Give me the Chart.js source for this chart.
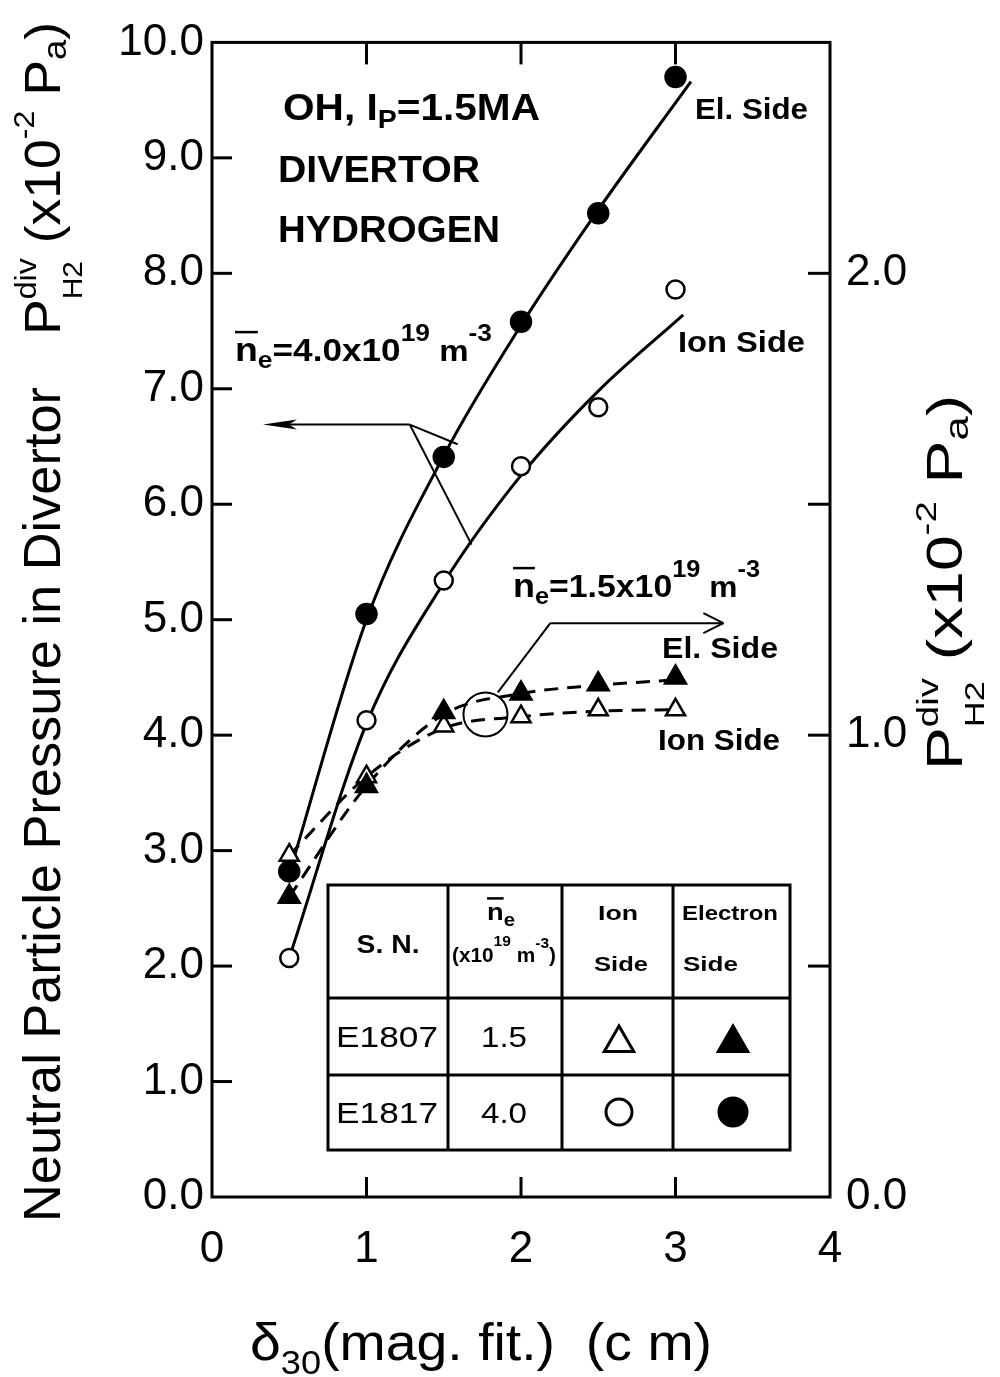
<!DOCTYPE html>
<html>
<head>
<meta charset="utf-8">
<script src="https://cdn.jsdelivr.net/npm/chart.js@4.4.1/dist/chart.umd.min.js"></script>
<style>
  html, body { margin: 0; padding: 0; background: #fff; }
  #wrap { width: 1000px; height: 1377px; position: relative; }
</style>
</head>
<body>
<div id="wrap"><canvas id="grafico"></canvas></div>
<script>
// delta_30 (cm) where the shots were taken
const delta = [0.5, 1.0, 1.5, 2.0, 2.5, 3.0];

// E1817, ne = 4.0x10^19 m^-3 -> left axis (x10^-2 Pa)
const e1817Elec = [2.82, 5.05, 6.41, 7.58, 8.52, 9.70];
const e1817Ion = [2.07, 4.13, 5.34, 6.33, 6.84, 7.86];

// E1807, ne = 1.5x10^19 m^-3 -> right axis (x10^-2 Pa)
const e1807Elec = [0.65, 0.89, 1.05, 1.09, 1.11, 1.125];
const e1807Ion = [0.74, 0.91, 1.02, 1.04, 1.055, 1.055];

// smooth curves drawn through the data
const curvaElecX = [0.5, 1.0, 1.5, 2.0, 2.5, 3.1];
const curvaElecY = [2.8, 5.0, 6.42, 7.55, 8.55, 9.66];
const curvaIonX = [0.5, 1.0, 1.5, 2.0, 2.5, 3.05];
const curvaIonY = [2.07, 4.1, 5.32, 6.25, 6.98, 7.64];
const curvaElec2X = [0.5, 1.0, 1.5, 2.0, 2.5, 3.0];
const curvaElec2Y = [0.65, 0.89, 1.045, 1.09, 1.108, 1.12];
const curvaIon2X = [0.5, 1.0, 1.5, 2.0, 2.5, 3.0];
const curvaIon2Y = [0.74, 0.91, 1.015, 1.04, 1.052, 1.055];

// axis ticks
const xTicks = [0, 1, 2, 3, 4];
const yTicks = [0, 1, 2, 3, 4, 5, 6, 7, 8, 9, 10];
const y2Ticks = [0, 0.5, 1.0, 1.5, 2.0, 2.5];
const y2Labels = [0, 1, 2];

// legend table
const tablaSN = ['E1807', 'E1817'];
const tablaNe = ['1.5', '4.0'];

const FAM = '"Liberation Sans", Arial, sans-serif';
const pts = (xs, ys) => xs.map((x, i) => ({ x, y: ys[i] }));

function curva(xs, ys, eje, dash) {
  return {
    data: pts(xs, ys), yAxisID: eje, showLine: true, pointRadius: 0,
    borderColor: '#000', borderWidth: 3, borderDash: dash || [],
    cubicInterpolationMode: 'monotone', fill: false, order: 2
  };
}
function marca(ys, eje, estilo, relleno, r) {
  return {
    data: pts(delta, ys), yAxisID: eje, pointStyle: estilo, pointRadius: r,
    pointBackgroundColor: relleno, pointBorderColor: '#000', pointBorderWidth: 2.5,
    showLine: false, order: 1
  };
}

// text made of pieces (sub/superscripts), squeezed to a given length
function texto(ctx, partes, x, y, ancho, opts) {
  opts = opts || {};
  const peso = opts.peso || 'normal';
  ctx.save();
  ctx.translate(x, y);
  if (opts.ang) ctx.rotate(opts.ang);
  const anchos = partes.map(p => {
    ctx.font = `${p.w || peso} ${p.s}px ${FAM}`;
    return ctx.measureText(p.t).width;
  });
  // dry run for total length
  let cx = 0, prevX = 0, prevW = 0;
  const xs = [];
  partes.forEach((p, i) => {
    const px = p.back ? prevX : cx;
    xs.push(px);
    if (p.back) cx = prevX + Math.max(prevW, anchos[i]);
    else { prevX = px; prevW = anchos[i]; cx = px + anchos[i]; }
  });
  const total = cx;
  const esc = ancho ? ancho / total : 1;
  if (opts.centro) ctx.translate(-total * esc / 2, 0);
  ctx.scale(esc, 1);
  ctx.fillStyle = '#000';
  ctx.textBaseline = 'alphabetic';
  ctx.textAlign = 'left';
  partes.forEach((p, i) => {
    ctx.font = `${p.w || peso} ${p.s}px ${FAM}`;
    ctx.fillText(p.t, xs[i], p.dy || 0);
    if (p.bar) {
      ctx.lineWidth = 2.5;
      ctx.beginPath();
      ctx.moveTo(xs[i], (p.dy || 0) - p.s * p.bar);
      ctx.lineTo(xs[i] + anchos[i], (p.dy || 0) - p.s * p.bar);
      ctx.stroke();
    }
  });
  ctx.restore();
}

function linea(ctx, x1, y1, x2, y2) {
  ctx.beginPath(); ctx.moveTo(x1, y1); ctx.lineTo(x2, y2); ctx.stroke();
}

const dibujo = {
  id: 'dibujo',
  afterDraw(chart) {
    const ctx = chart.ctx;
    const a = chart.chartArea;
    const sx = chart.scales.x, sy = chart.scales.y, sy2 = chart.scales.y2;
    const X = v => sx.getPixelForValue(v), Y = v => sy.getPixelForValue(v);
    ctx.save();
    ctx.strokeStyle = '#000';
    ctx.fillStyle = '#000';
    ctx.lineCap = 'butt';

    // frame and inward ticks
    ctx.lineWidth = 3;
    ctx.strokeRect(a.left, a.top, a.right - a.left, a.bottom - a.top);
    xTicks.slice(1, -1).forEach(v => {
      linea(ctx, X(v), a.bottom, X(v), a.bottom - 20);
      linea(ctx, X(v), a.top, X(v), a.top + 22);
    });
    yTicks.slice(1, -1).forEach(v => linea(ctx, a.left, Y(v), a.left + 20, Y(v)));
    y2Ticks.slice(1, -1).forEach(v => {
      const py = sy2.getPixelForValue(v);
      linea(ctx, a.right, py, a.right - 22, py);
    });

    // pointer to the left axis (ne = 4.0)
    ctx.lineWidth = 2;
    const jx = X(1.28), jy = Y(6.69);
    linea(ctx, X(0.33) + 20, jy, jx, jy);
    linea(ctx, jx, jy, X(1.59), Y(6.52));
    linea(ctx, jx, jy, X(1.68), Y(5.65));
    ctx.beginPath();
    ctx.moveTo(X(0.33), jy);
    ctx.lineTo(X(0.33) + 34, jy - 5);
    ctx.lineTo(X(0.33) + 26, jy);
    ctx.lineTo(X(0.33) + 34, jy + 5);
    ctx.closePath();
    ctx.fill();

    // pointer to the right axis (ne = 1.5)
    const cxr = X(1.77), cyr = sy2.getPixelForValue(4.18 / 4);
    ctx.beginPath();
    ctx.arc(cxr, cyr, 22, 0, Math.PI * 2);
    ctx.stroke();
    const ky = Y(4.97), ex = X(3.31);
    linea(ctx, X(1.85), Y(4.37), X(2.19), ky);
    linea(ctx, X(2.19), ky, ex, ky);
    linea(ctx, ex - 20, ky - 10, ex, ky);
    linea(ctx, ex - 20, ky + 10, ex, ky);

    // labels inside the plot
    const B = 'bold';
    texto(ctx, [{ t: 'OH, I', s: 37 }, { t: 'P', s: 26, dy: 8 }, { t: '=1.5MA', s: 37 }], 283, 120, 257, { peso: B });
    texto(ctx, [{ t: 'DIVERTOR', s: 37 }], 278, 182, 202, { peso: B });
    texto(ctx, [{ t: 'HYDROGEN', s: 37 }], 278, 242, 222, { peso: B });
    texto(ctx, [{ t: 'El. Side', s: 29 }], 695, 119, 113, { peso: B });
    texto(ctx, [{ t: 'Ion Side', s: 29 }], 678, 352, 127, { peso: B });
    texto(ctx, [{ t: 'El. Side', s: 29 }], 662, 658, 116, { peso: B });
    texto(ctx, [{ t: 'Ion Side', s: 29 }], 658, 750, 122, { peso: B });

    const ne = (val) => [
      { t: 'n', s: 34, bar: 0.85 }, { t: 'e', s: 24, dy: 7 }, { t: '=' + val + 'x10', s: 32 },
      { t: '19', s: 24, dy: -20 }, { t: ' m', s: 30 }, { t: '-3', s: 24, dy: -20 }
    ];
    texto(ctx, ne('4.0'), 235, 361, 257, { peso: B });
    texto(ctx, ne('1.5'), 513, 597, 247, { peso: B });

    // legend table
    const t0 = 328, t1 = 790, r0 = 885, r3 = 1150;
    const cols = [t0, 448, 562, 673, t1];
    const rows = [r0, 998, 1075, r3];
    ctx.fillStyle = '#fff';
    ctx.fillRect(t0, r0, t1 - t0, r3 - r0);
    ctx.fillStyle = '#000';
    ctx.lineWidth = 3;
    ctx.strokeRect(t0, r0, t1 - t0, r3 - r0);
    cols.slice(1, -1).forEach(c => linea(ctx, c, r0, c, r3));
    rows.slice(1, -1).forEach(r => linea(ctx, t0, r, t1, r));

    texto(ctx, [{ t: 'S. N.', s: 26 }], 388, 953, 63, { peso: B, centro: true });
    texto(ctx, [{ t: 'n', s: 24, bar: 0.9 }, { t: 'e', s: 18, dy: 6 }], 501, 920, 28, { peso: B, centro: true });
    texto(ctx, [{ t: '(x10', s: 20 }, { t: '19', s: 15, dy: -16 }, { t: ' m', s: 20 }, { t: '-3', s: 15, dy: -14 }, { t: ')', s: 20 }],
      504, 962, 104, { peso: B, centro: true });
    texto(ctx, [{ t: 'Ion', s: 21 }], 618, 920, 40, { peso: B, centro: true });
    texto(ctx, [{ t: 'Side', s: 21 }], 621, 971, 54, { peso: B, centro: true });
    texto(ctx, [{ t: 'Electron', s: 21 }], 682, 920, 96, { peso: B });
    texto(ctx, [{ t: 'Side', s: 21 }], 683, 971, 55, { peso: B });

    const filas = [1047, 1123];
    tablaSN.forEach((sn, i) => {
      texto(ctx, [{ t: sn, s: 30 }], 336, filas[i], 102);
      texto(ctx, [{ t: tablaNe[i], s: 30 }], 504, filas[i], 46, { centro: true });
    });
    const simbolo = (estilo, relleno, r, x, y) => {
      ctx.fillStyle = relleno;
      ctx.strokeStyle = '#000';
      ctx.lineWidth = 3;
      Chart.helpers.drawPoint(ctx, { pointStyle: estilo, radius: r, borderWidth: 3, rotation: 0 }, x, y);
    };
    simbolo('triangle', '#fff', 17, 619, 1043);
    simbolo('triangle', '#000', 17, 733, 1043);
    simbolo('circle', '#fff', 13, 619, 1112);
    simbolo('circle', '#000', 14, 733, 1112);
    ctx.fillStyle = '#000';

    // axis titles
    const up = -Math.PI / 2;
    texto(ctx, [{ t: 'Neutral Particle Pressure in Divertor', s: 52 }], 60, 1222, 835, { ang: up });
    const unidad = [
      { t: 'P', s: 50 }, { t: 'div', s: 30, dy: -24 }, { t: 'H2', s: 28, dy: 22, back: true },
      { t: ' (x10', s: 50 }, { t: '-2', s: 30, dy: -26 }, { t: ' P', s: 50 }, { t: 'a', s: 34, dy: 6 }, { t: ')', s: 50 }
    ];
    texto(ctx, unidad, 60, 335, 313, { ang: up });
    texto(ctx, unidad, 962, 770, 375, { ang: up });
    texto(ctx, [{ t: 'δ', s: 52 }, { t: '30', s: 34, dy: 14 }, { t: '(mag. fit.)', s: 52 }, { t: '  (c m)', s: 52 }],
      250, 1360, 462);
    ctx.restore();
  }
};

const tickFont = { family: FAM, size: 44 };

new Chart(document.getElementById('grafico'), {
  type: 'scatter',
  data: {
    datasets: [
      curva(curvaElecX, curvaElecY, 'y'),
      curva(curvaIonX, curvaIonY, 'y'),
      curva(curvaElec2X, curvaElec2Y, 'y2', [14, 9]),
      curva(curvaIon2X, curvaIon2Y, 'y2', [14, 9]),
      marca(e1817Elec, 'y', 'circle', '#000', 10),
      marca(e1817Ion, 'y', 'circle', '#fff', 9),
      marca(e1807Elec, 'y2', 'triangle', '#000', 12),
      marca(e1807Ion, 'y2', 'triangle', '#fff', 11)
    ]
  },
  options: {
    responsive: true,
    maintainAspectRatio: false,
    animation: false,
    layout: { padding: { top: 31, left: 0, right: 0, bottom: 0 } },
    plugins: { legend: { display: false }, tooltip: { enabled: false } },
    scales: {
      x: {
        type: 'linear', min: 0, max: 4,
        afterBuildTicks: s => { s.ticks = xTicks.map(v => ({ value: v })); },
        afterFit: s => { s.height = 180; },
        ticks: { color: '#000', font: tickFont, padding: 26, autoSkip: false, maxRotation: 0, callback: v => String(v) },
        grid: { display: false, drawTicks: false },
        border: { display: false }
      },
      y: {
        type: 'linear', position: 'left', min: 0, max: 10,
        afterBuildTicks: s => { s.ticks = yTicks.map(v => ({ value: v })); },
        afterFit: s => { s.width = 212; },
        ticks: { color: '#000', font: tickFont, padding: 8, autoSkip: false, callback: v => v.toFixed(1) },
        grid: { display: false, drawTicks: false },
        border: { display: false }
      },
      y2: {
        type: 'linear', position: 'right', min: 0, max: 2.5,
        afterBuildTicks: s => { s.ticks = y2Ticks.map(v => ({ value: v })); },
        afterFit: s => { s.width = 170; },
        ticks: {
          color: '#000', font: tickFont, padding: 16, autoSkip: false,
          callback: v => (y2Labels.includes(v) ? v.toFixed(1) : '')
        },
        grid: { display: false, drawTicks: false },
        border: { display: false }
      }
    }
  },
  plugins: [dibujo]
});
</script>
</body>
</html>
